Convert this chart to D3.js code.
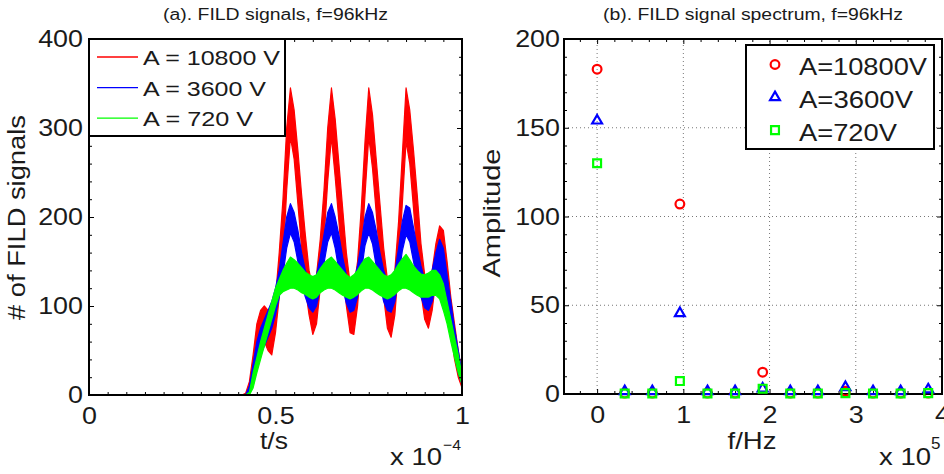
<!DOCTYPE html>
<html><head><meta charset="utf-8">
<script src="https://cdn.jsdelivr.net/npm/d3@7"></script>
<style>
body{margin:0;background:#fff}
svg{display:block}
text{font-family:"Liberation Sans",Arial,Helvetica,sans-serif;fill:#1a1a1a}
</style>
</head><body><svg id="c" width="944" height="474"></svg>
<script>
// ---------- Panel (a): FILD signals (time in units of 1e-4 s), envelope (low/high) of noisy traces ----------
const tTime = [0,
 0.40,0.41,0.42,0.43,0.44,0.45,0.46,0.47,0.48,0.49,
 0.50,0.51,0.52,0.53,0.54,0.55,0.56,0.57,0.58,0.59,
 0.60,0.61,0.62,0.63,0.64,0.65,0.66,0.67,0.68,0.69,
 0.70,0.71,0.72,0.73,0.74,0.75,0.76,0.77,0.78,0.79,
 0.80,0.81,0.82,0.83,0.84,0.85,0.86,0.87,0.88,0.89,
 0.90,0.91,0.92,0.93,0.94,0.95,0.96,0.97,0.98,0.99,
 1.00];
const redLo = [0,
 0,0,0,2,15,35,55,60,50,45,
 70,110,150,230,290,265,215,165,120,90,
 68,80,120,175,240,290,245,195,140,100,
 70,68,100,155,225,290,255,205,150,110,
 75,65,90,145,215,285,260,210,155,115,
 85,75,95,130,150,140,105,70,40,20,
 8];
const redHi = [0,
 0,0,2,15,45,80,95,100,95,90,
 110,160,220,300,345,320,275,225,180,140,
 120,135,175,230,300,345,310,260,210,160,
 125,120,150,210,285,345,315,265,215,165,
 130,120,140,195,270,345,320,275,225,170,
 135,125,140,170,190,185,150,110,80,50,
 25];
const blueLo = [0,
 0,0,0,2,12,30,45,55,65,75,
 90,110,135,165,182,172,150,125,110,98,
 93,100,120,148,172,182,165,140,120,103,
 93,95,110,138,168,182,170,145,125,105,
 95,93,105,132,162,180,172,150,128,110,
 98,95,105,125,135,125,100,70,45,25,
 12];
const blueHi = [0,
 0,0,0,10,35,60,75,85,95,105,
 120,140,170,200,215,205,185,160,140,130,
 125,135,155,180,205,215,200,180,155,135,
 127,128,145,170,200,215,205,185,160,140,
 128,125,138,165,195,213,210,188,165,145,
 130,127,140,160,175,165,135,105,75,50,
 25];
const greenLo = [0,
 0,0,0,0,8,25,40,55,70,85,
 100,112,116,118,120,120,118,115,113,110,
 108,110,115,118,120,120,118,115,112,110,
 108,110,113,117,120,120,118,115,112,110,
 108,110,113,117,120,120,118,115,112,110,
 110,110,112,112,108,95,80,60,42,25,
 12];
const greenHi = [0,
 0,0,0,3,25,42,60,75,90,105,
 120,130,140,148,155,152,148,143,138,135,
 133,135,142,148,152,155,150,145,140,135,
 132,135,140,147,153,155,150,145,140,135,
 133,135,140,147,153,158,152,145,140,136,
 135,137,140,140,135,125,105,85,65,45,
 22];
const legendA = ["A = 10800 V","A = 3600 V","A = 720 V"];
const xTicksA = [0,0.5,1], xTickLabelsA = ["0","0.5","1"];
const xMinorA = [0.05,0.1,0.15,0.2,0.25,0.3,0.35,0.4,0.45,0.55,0.6,0.65,0.7,0.75,0.8,0.85,0.9,0.95];
const yTicksA = [0,100,200,300,400], yTickLabelsA = ["0","100","200","300","400"];
const yMinorA = [20,40,60,80,120,140,160,180,220,240,260,280,320,340,360,380];

// ---------- Panel (b): spectrum (frequency in units of 1e5 Hz) ----------
const freq = [0,0.32,0.64,0.96,1.28,1.60,1.92,2.24,2.56,2.88,3.20,3.52,3.84];
const ampRed   = [183,0.5,0.5,107,0.5,0.5,12.3,0.5,0.5,1.5,0.5,0.5,0.5];
const ampBlue  = [154,1.5,1.5,45.5,1.5,1.5,3,1.5,1.5,3.8,1.5,1.5,2.5];
const ampGreen = [130,0.3,0.3,7.3,0.3,0.3,3,0.3,0.3,0.5,0.3,0.3,0.5];
const legendB = ["A=10800V","A=3600V","A=720V"];
const xTicksB = [0,1,2,3,4], xTickLabelsB = ["0","1","2","3","4"];
const xMinorB = [-0.2,0.2,0.4,0.6,0.8,1.2,1.4,1.6,1.8,2.2,2.4,2.6,2.8,3.2,3.4,3.6,3.8];
const yTicksB = [0,50,100,150,200], yTickLabelsB = ["0","50","100","150","200"];
const yMinorB = [10,20,30,40,60,70,80,90,110,120,130,140,160,170,180,190];

const RED="#ff0000", BLUE="#0000ff", GREEN="#00ff00";
const svg = d3.select("#c");

function fit(sel, w){ sel.attr("textLength", w).attr("lengthAdjust","spacingAndGlyphs"); }
function stretch(sel, k){
  sel.each(function(){ const w=this.getComputedTextLength(); d3.select(this).attr("textLength", w*k).attr("lengthAdjust","spacingAndGlyphs"); });
}

function drawAxes(x, y, o){
  const [xl,xr]=x.range(), [yb,yt]=y.range();
  const g = svg.append("g");
  const clean = s => { s.select(".domain").remove(); s.attr("font-size",null).attr("font-family",null); };
  g.append("g").attr("transform",`translate(0,${yb})`).call(d3.axisBottom(x).tickValues(o.xMinor).tickSize(-3).tickFormat("")).call(clean);
  g.append("g").attr("transform",`translate(0,${yt})`).call(d3.axisTop(x).tickValues(o.xMinor).tickSize(-3).tickFormat("")).call(clean);
  g.append("g").attr("transform",`translate(${xl},0)`).call(d3.axisLeft(y).tickValues(o.yMinor).tickSize(-3).tickFormat("")).call(clean);
  g.append("g").attr("transform",`translate(${xr},0)`).call(d3.axisRight(y).tickValues(o.yMinor).tickSize(-3).tickFormat("")).call(clean);
  const bx = g.append("g").attr("transform",`translate(0,${yb})`)
    .call(d3.axisBottom(x).tickValues(o.xTicks).tickSize(-5).tickPadding(12).tickFormat((d,i)=>o.xLabels[i])).call(clean);
  g.append("g").attr("transform",`translate(0,${yt})`).call(d3.axisTop(x).tickValues(o.xTicks).tickSize(-5).tickFormat("")).call(clean);
  const ly = g.append("g").attr("transform",`translate(${xl},0)`)
    .call(d3.axisLeft(y).tickValues(o.yTicks).tickSize(-5).tickPadding(o.yPad).tickFormat((d,i)=>o.yLabels[i])).call(clean);
  g.append("g").attr("transform",`translate(${xr},0)`).call(d3.axisRight(y).tickValues(o.yTicks).tickSize(-5).tickFormat("")).call(clean);
  g.selectAll("line").attr("stroke","#000");
  bx.selectAll("text").attr("font-size",24).attr("fill","#1a1a1a").call(stretch,1.12);
  ly.selectAll("text").attr("font-size",24).attr("fill","#1a1a1a").call(stretch,1.12);
  g.append("rect").attr("x",xl).attr("y",yt).attr("width",xr-xl).attr("height",yb-yt)
    .attr("fill","none").attr("stroke","#000").attr("stroke-width",2);
  return g;
}

// ================= Panel (a) =================
const xA = d3.scaleLinear().domain([0,1]).range([89,462]);
const yA = d3.scaleLinear().domain([0,400]).range([395,39]);
const seriesA = [
  {lo:redLo, hi:redHi, c:RED},
  {lo:blueLo, hi:blueHi, c:BLUE},
  {lo:greenLo, hi:greenHi, c:GREEN}
];
const idx = d3.range(tTime.length);
seriesA.forEach(s=>{
  const area = d3.area().x(i=>xA(tTime[i])).y0(i=>yA(s.lo[i])).y1(i=>yA(s.hi[i]));
  svg.append("path").datum(idx).attr("d",area).attr("fill",s.c).attr("stroke",s.c).attr("stroke-width",1.2).attr("stroke-linejoin","round");
});
drawAxes(xA,yA,{xTicks:xTicksA,xMinor:xMinorA,xLabels:xTickLabelsA,yTicks:yTicksA,yMinor:yMinorA,yLabels:yTickLabelsA,yPad:6});

svg.append("text").attr("x",275.5).attr("y",20).attr("text-anchor","middle").attr("font-size",16).text("(a). FILD signals, f=96kHz").call(fit,225);
svg.append("text").attr("x",274).attr("y",449).attr("text-anchor","middle").attr("font-size",24).text("t/s").call(fit,28);
svg.append("text").attr("transform","translate(25,217.5) rotate(-90)").attr("text-anchor","middle").attr("font-size",23).text("# of FILD signals").call(fit,205);
svg.append("text").attr("x",390).attr("y",465).attr("font-size",24).text("x 10").call(fit,52);
svg.append("text").attr("x",443).attr("y",450).attr("font-size",15).text("\u22124").call(fit,18);

const legA = svg.append("g");
legA.append("rect").attr("x",89).attr("y",39).attr("width",196).attr("height",97).attr("fill","#fff").attr("stroke","#000").attr("stroke-width",2);
[RED,BLUE,GREEN].forEach((c,i)=>{
  const cy = 57 + i*30.6;
  legA.append("line").attr("x1",97).attr("x2",138).attr("y1",cy).attr("y2",cy).attr("stroke",c).attr("stroke-width",1.3);
  legA.append("text").attr("x",143).attr("y",cy+8).attr("font-size",21).text(legendA[i]).call(fit,[137,123,110][i]);
});

// ================= Panel (b) =================
const xB = d3.scaleLinear().domain([-0.384,4]).range([564,942]);
const yB = d3.scaleLinear().domain([0,200]).range([394,39]);
const grid = svg.append("g").attr("stroke","#777").attr("stroke-width",1).attr("stroke-dasharray","1,3");
xTicksB.filter(v=>v>xB.domain()[0] && v<xB.domain()[1]).forEach(v=>{
  grid.append("line").attr("x1",xB(v)).attr("x2",xB(v)).attr("y1",yB(0)).attr("y2",yB(200));
});
yTicksB.filter(v=>v>0 && v<200).forEach(v=>{
  grid.append("line").attr("x1",xB.range()[0]).attr("x2",xB.range()[1]).attr("y1",yB(v)).attr("y2",yB(v));
});
drawAxes(xB,yB,{xTicks:xTicksB,xMinor:xMinorB,xLabels:xTickLabelsB,yTicks:yTicksB,yMinor:yMinorB,yLabels:yTickLabelsB,yPad:4});

const sym = {
  circle: d3.symbol().type(d3.symbolCircle).size(60),
  tri: d3.symbol().type(d3.symbolTriangle).size(42),
  sq: d3.symbol().type(d3.symbolSquare).size(62)
};
const seriesB = [
  {v:ampRed, c:RED, s:"circle"},
  {v:ampBlue, c:BLUE, s:"tri"},
  {v:ampGreen, c:GREEN, s:"sq"}
];
seriesB.forEach(s=>{
  svg.append("g").selectAll("path").data(freq).join("path")
    .attr("transform",(d,i)=>`translate(${xB(d)},${yB(s.v[i])})`)
    .attr("d",sym[s.s]()).attr("fill","none").attr("stroke",s.c).attr("stroke-width",2.2);
});

svg.append("text").attr("x",753).attr("y",20).attr("text-anchor","middle").attr("font-size",16).text("(b). FILD signal spectrum, f=96kHz").call(fit,300);
svg.append("text").attr("x",752).attr("y",449).attr("text-anchor","middle").attr("font-size",24).text("f/Hz").call(fit,49);
svg.append("text").attr("transform","translate(500,213) rotate(-90)").attr("text-anchor","middle").attr("font-size",24).text("Amplitude").call(fit,129);
svg.append("text").attr("x",879).attr("y",465).attr("font-size",24).text("x 10").call(fit,52);
svg.append("text").attr("x",931).attr("y",449).attr("font-size",17).text("5").call(fit,9.5);

const legB = svg.append("g");
legB.append("rect").attr("x",746).attr("y",45).attr("width",188).attr("height",104).attr("fill","#fff").attr("stroke","#000").attr("stroke-width",2);
seriesB.forEach((s,i)=>{
  const cy = 64.5 + i*32.8;
  legB.append("path").attr("transform",`translate(775,${cy})`).attr("d",sym[s.s]()).attr("fill","none").attr("stroke",s.c).attr("stroke-width",2.2);
  legB.append("text").attr("x",799).attr("y",cy+10.5).attr("font-size",23).text(legendB[i]).call(fit,[128,114,98][i]);
});
</script>
</body></html>
